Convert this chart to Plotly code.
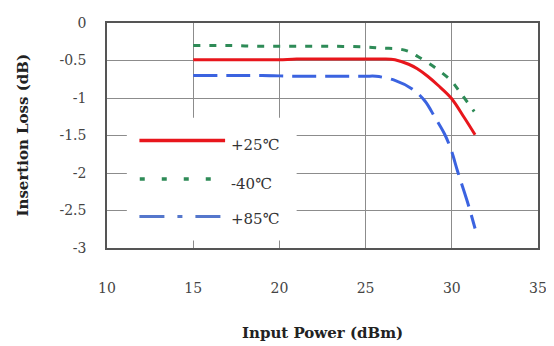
import plotly.graph_objects as go

# ---- data ----
x_p25 = [15, 17, 19, 20, 21, 23, 25, 26, 26.7, 27.5, 28.0, 28.6, 29.2, 29.96, 30.72, 31.35]
y_p25 = [-0.49, -0.49, -0.49, -0.49, -0.48, -0.48, -0.48, -0.48, -0.49, -0.55, -0.61, -0.71, -0.83, -1.00, -1.26, -1.49]

x_m40 = [15, 17, 19, 21, 23, 25, 26, 26.9, 27.5, 28.05, 29.0, 29.96, 30.5, 31.3]
y_m40 = [-0.30, -0.30, -0.31, -0.31, -0.31, -0.32, -0.335, -0.345, -0.38, -0.45, -0.59, -0.77, -0.93, -1.18]

x_p85 = [15, 17, 19, 21, 23, 25, 25.6, 26.7, 27.7, 28.44, 29.0, 29.58, 29.96, 30.34, 30.9, 31.35]
y_p85 = [-0.70, -0.70, -0.70, -0.71, -0.71, -0.71, -0.71, -0.765, -0.88, -1.04, -1.25, -1.48, -1.69, -1.98, -2.38, -2.74]

series_names = ["+25℃", "-40℃", "+85℃"]
x_tickvals = [10, 15, 20, 25, 30, 35]
x_ticktext = ["10", "15", "20", "25", "30", "35"]
y_tickvals = [0, -0.5, -1, -1.5, -2, -2.5, -3]
y_ticktext = ["0", "-0.5", "-1", "-1.5", "-2", "-2.5", "-3"]

RED = "#e8161c"
GREEN = "#2e8b57"
BLUE = "#3b63e0"
TICKFONT = dict(family="DejaVu Serif", size=14, color="#444444")
TITLEFONT = dict(family="DejaVu Serif", size=15, color="#222222")

fig = go.Figure()
fig.add_trace(go.Scatter(x=x_m40, y=y_m40, mode="lines", name=series_names[1],
                         line=dict(color=GREEN, width=3, dash="7px,9px", shape="spline", smoothing=1.0)))
fig.add_trace(go.Scatter(x=x_p25, y=y_p25, mode="lines", name=series_names[0],
                         line=dict(color=RED, width=3, shape="spline", smoothing=1.0)))
fig.add_trace(go.Scatter(x=x_p85, y=y_p85, mode="lines", name=series_names[2],
                         line=dict(color=BLUE, width=3, dash="24px,9px", shape="spline", smoothing=1.0)))

# legend box (white, hides gridlines) + hand-drawn samples, as in the reference
shapes = [
    dict(type="rect", xref="x", yref="y", x0=11.15, x1=21.0, y0=-2.90, y1=-1.263,
         fillcolor="white", line=dict(width=0), layer="above"),
    dict(type="line", xref="x", yref="y", x0=11.88, x1=16.85, y0=-1.568, y1=-1.568,
         line=dict(color=RED, width=3.5), layer="above"),
    dict(type="line", xref="x", yref="y", x0=11.9, x1=16.1, y0=-2.08, y1=-2.08,
         line=dict(color=GREEN, width=3.5, dash="5px,17px"), layer="above"),
    dict(type="line", xref="x", yref="y", x0=11.88, x1=16.85, y0=-2.58, y1=-2.58,
         line=dict(color="#5577cc", width=3, dash="25px,13px,5px,13px"), layer="above"),
]
legend_y = [-1.633, -2.148, -2.616]
annotations = [
    dict(xref="x", yref="y", x=17.1, y=yy, text=nm, showarrow=False, xanchor="left",
         yanchor="middle", font=dict(family="DejaVu Serif", size=15, color="#333333"))
    for nm, yy in zip(series_names, legend_y)
]
annotations += [
    dict(xref="paper", yref="paper", x=0.5, y=0, yshift=-85, text="<b>Input Power (dBm)</b>",
         showarrow=False, xanchor="center", yanchor="middle", font=TITLEFONT),
    dict(xref="paper", yref="paper", x=0, y=0.5, xshift=-85, text="<b>Insertion Loss (dB)</b>",
         showarrow=False, xanchor="center", yanchor="middle", textangle=-90, font=TITLEFONT),
]

axis_common = dict(showgrid=True, gridcolor="#8c8c8c", gridwidth=1, zeroline=False,
                   showline=True, linecolor="#555555", linewidth=1.5, mirror=True,
                   ticks="", tickfont=TICKFONT)
fig.update_xaxes(range=[10, 35], tickvals=x_tickvals, ticktext=x_ticktext,
                 ticklabelstandoff=26, **axis_common)
fig.update_yaxes(range=[-3, 0], tickvals=y_tickvals, ticktext=y_ticktext,
                 ticklabelstandoff=16, **axis_common)

# the page body has an 8px margin: size the figure so it fills the 554x346 window
fig.update_layout(width=546, height=338, margin=dict(l=99, r=9, t=7, b=98),
                  paper_bgcolor="white", plot_bgcolor="white", showlegend=False,
                  shapes=shapes, annotations=annotations)
fig.write_html("out.html")
